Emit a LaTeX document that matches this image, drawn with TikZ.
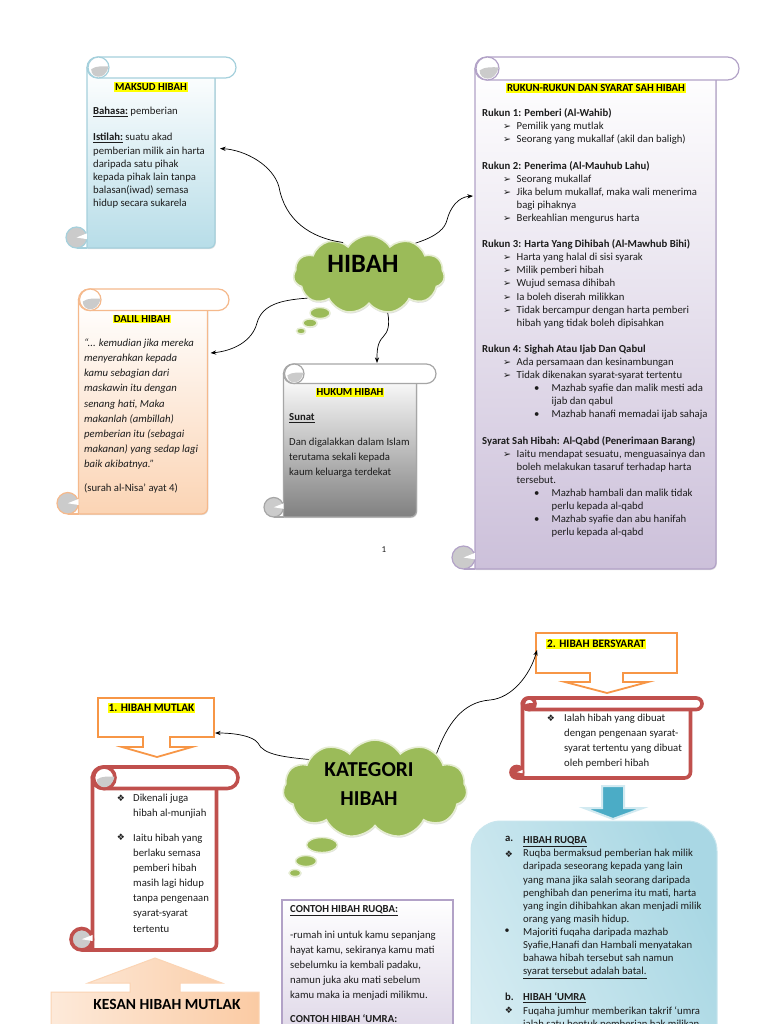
\documentclass[tikz,border=0pt]{standalone}
\usepackage{fontspec}
\setmainfont{Carlito}
\newfontfamily\symfont{DejaVu Sans}
\usetikzlibrary{shapes,arrows}
\usetikzlibrary{arrows.meta,shadows}

\definecolor{inktext}{HTML}{1C1C1C}
\definecolor{hlyellow}{HTML}{FFFF00}
\definecolor{leafgreen}{HTML}{9BBB59}
\definecolor{leafedge}{HTML}{E6EDD3}
\definecolor{orangeline}{HTML}{F79646}
\definecolor{redline}{HTML}{C0504D}
\definecolor{curlgray}{HTML}{CBCBCB}
\definecolor{tealfill}{HTML}{4BACC6}
\definecolor{bluepaper}{HTML}{B7DDE8}
\definecolor{blueedge}{HTML}{A5D0DC}
\definecolor{lilacpaper}{HTML}{CCC0DA}
\definecolor{lilacedge}{HTML}{B2A2C7}
\definecolor{peachpaper}{HTML}{FBD4B4}
\definecolor{peachedge}{HTML}{F5B98C}
\definecolor{graypaper}{HTML}{808080}
\definecolor{grayedge}{HTML}{A6A6A6}

\tikzstyle{line} = [draw, line width=0.7, -{Stealth[length=2mm]}]
\tikzstyle{body} = [inktext, inner sep=0, anchor=north west, align=left, font=\fontsize{10.7}{13.1}\selectfont]
\tikzstyle{wide} = [body, font=\fontsize{10.7}{15.15}\selectfont]
\tikzstyle{judul} = [fill=hlyellow, text=black, inner sep=1, font=\bfseries\fontsize{10.7}{12}\selectfont]
\tikzstyle{tajuk} = [fill=hlyellow, text=black, inner sep=1, anchor=north west, font=\bfseries\fontsize{11.3}{13}\selectfont]
\tikzstyle{awan} = [cloud, cloud puffs=11, cloud puff arc=115, cloud ignores aspect, draw=leafedge, line width=1.6, fill=leafgreen, inner sep=0,
    drop shadow={opacity=0.25, shadow xshift=0.5pt, shadow yshift=-1.5pt}]
\tikzstyle{awantext} = [inner sep=0, text=black, font=\bfseries\fontsize{21.3}{25}\selectfont]
\tikzstyle{bubble} = [ellipse, draw=leafedge, line width=1.4, fill=leafgreen, inner sep=0,
    drop shadow={opacity=0.25, shadow xshift=0.5pt, shadow yshift=-1pt}]
\tikzstyle{callout} = [draw=orangeline, line width=1.8, fill=white]
\tikzstyle{anchorbox} = [inner sep=0, outer sep=0]
\tikzstyle{scred} = [draw=redline, line width=3.6, fill=white]

\newcommand{\mya}{\makebox[34.5pt][l]{\hspace*{21pt}{\symfont\fontsize{9.5}{9}\selectfont ➢}}}
\newcommand{\myb}{\makebox[69.5pt][l]{\hspace*{52pt}•}}
\newcommand{\cta}{\hspace*{34.5pt}}
\newcommand{\ctb}{\hspace*{69.5pt}}
\newcommand{\dia}{{\symfont\fontsize{9}{9}\selectfont ❖}}

% name, x0, y0, x1, y1, roll size, style, curl colour
\newcommand{\scrollpaper}[8]{
    \pgfmathsetmacro\scL{#2+#6}
    \pgfmathsetmacro\scR{#4-#6}
    \pgfmathsetmacro\scT{#3+#6/2}
    \pgfmathsetmacro\scB{#3+#6}
    \pgfmathsetmacro\scC{#2+#6/2}
    \pgfmathsetmacro\scM{#5-#6/2}
    \pgfmathsetmacro\scQ{\scL+#6/2+1}
    \pgfmathsetmacro\scNx{(\scL+\scR)/2}
    \pgfmathsetmacro\scNy{(#3+#5)/2}
    \pgfmathsetmacro\scNw{\scR-\scL}
    \pgfmathsetmacro\scNh{#5-#3}
    \draw[#7, drop shadow={opacity=0.25, shadow xshift=0.8pt, shadow yshift=-1pt}]
        (\scL,\scT) -- (\scL,#5) [rounded corners=6] -- (\scR,#5) -- (\scR,\scT) [sharp corners] -- cycle;
    \draw[#7] (\scC,#5) -- (\scL,#5);
    \draw[#7, fill=#8, top color=#8, bottom color=#8] (\scC,\scM) circle[radius=#6/2];
    \fill[white] (\scC,\scM) -- (\scL,\scM-#6*0.2) -- (\scL,\scM+#6*0.08) -- cycle;
    \draw[#7, top color=white, bottom color=white, fill=white, rounded corners=#6/2-0.01] (\scL,#3) rectangle (#4,\scB);
    \draw[#7, top color=white, bottom color=white, fill=white] (\scQ,\scT) circle[radius=#6/2];
    \fill[#8] (\scL+#6*0.2,\scT+#6*0.08) .. controls (\scL+#6*0.45,\scT-#6*0.1) and (\scL+#6*0.8,\scT-#6*0.05) .. (\scL+#6*1.02,\scT-#6*0.05)
        .. controls (\scL+#6*0.95,\scT+#6*0.3) and (\scL+#6*0.75,\scT+#6*0.44) .. (\scL+#6*0.55,\scT+#6*0.44)
        .. controls (\scL+#6*0.35,\scT+#6*0.44) and (\scL+#6*0.2,\scT+#6*0.3) .. cycle;
    \node[anchorbox, minimum width=\scNw, minimum height=\scNh] (#1) at (\scNx,\scNy) {};
}

\begin{document}
\begin{tikzpicture}[x=1pt, y=-1pt]
    \useasboundingbox (0,0) rectangle (768,1024);
    \clip (0,0) rectangle (768,1024);
    \fill[white] (0,0) rectangle (768,1024);

    % top page
    \scrollpaper{maksud}{66}{57}{236}{248}{21}{draw=blueedge, line width=1.2, top color=white, bottom color=bluepaper}{curlgray}
    \scrollpaper{rukun}{452}{57}{739}{569}{23}{draw=lilacedge, line width=1.2, top color=white, bottom color=lilacpaper}{curlgray}
    \scrollpaper{dalil}{57}{289}{229}{514}{21.5}{draw=peachedge, line width=1.2, top color=white, bottom color=peachpaper}{curlgray}
    \scrollpaper{hukum}{264}{364}{436}{517}{19.5}{draw=grayedge, line width=1.2, top color=white, bottom color=graypaper}{curlgray}

    \node[judul] (maksudt) at (151,87) {MAKSUD HIBAH};
    \node[body] (maksudb) at (93,107) {\textbf{\underline{Bahasa:}} pemberian\\[13.1pt]
        \textbf{\underline{Istilah:}} suatu akad\\
        pemberian milik ain harta\\
        daripada satu pihak\\
        kepada pihak lain tanpa\\
        balasan(iwad) semasa\\
        hidup secara sukarela};

    \node[judul] (rukunt) at (596,88) {RUKUN-RUKUN DAN SYARAT SAH HIBAH};
    \node[body] (rukunb) at (482,108.5) {\textbf{Rukun 1: Pemberi (Al-Wahib)}\\
        \mya Pemilik yang mutlak\\
        \mya Seorang yang mukallaf (akil dan baligh)\\[13.1pt]
        \textbf{Rukun 2: Penerima (Al-Mauhub Lahu)}\\
        \mya Seorang mukallaf\\
        \mya Jika belum mukallaf, maka wali menerima\\
        \cta bagi pihaknya\\
        \mya Berkeahlian mengurus harta\\[13.1pt]
        \textbf{Rukun 3: Harta Yang Dihibah (Al-Mawhub Bihi)}\\
        \mya Harta yang halal di sisi syarak\\
        \mya Milik pemberi hibah\\
        \mya Wujud semasa dihibah\\
        \mya Ia boleh diserah milikkan\\
        \mya Tidak bercampur dengan harta pemberi\\
        \cta hibah yang tidak boleh dipisahkan\\[13.1pt]
        \textbf{Rukun 4: Sighah Atau Ijab Dan Qabul}\\
        \mya Ada persamaan dan kesinambungan\\
        \mya Tidak dikenakan syarat-syarat tertentu\\
        \myb Mazhab syafie dan malik mesti ada\\
        \ctb ijab dan qabul\\
        \myb Mazhab hanafi memadai ijab sahaja\\[13.1pt]
        \textbf{Syarat Sah Hibah: Al-Qabd (Penerimaan Barang)}\\
        \mya Iaitu mendapat sesuatu, menguasainya dan\\
        \cta boleh melakukan tasaruf terhadap harta\\
        \cta tersebut.\\
        \myb Mazhab hambali dan malik tidak\\
        \ctb perlu kepada  al-qabd\\
        \myb Mazhab syafie dan abu hanifah\\
        \ctb perlu kepada al-qabd};

    \node[judul] (dalilt) at (142,319) {DALIL HIBAH};
    \node[wide, font=\itshape\fontsize{10.7}{15.15}\selectfont] (dalilb) at (84,338.5) {“... kemudian jika mereka\\
        menyerahkan kepada\\
        kamu sebagian dari\\
        maskawin itu dengan\\
        senang hati, Maka\\
        makanlah (ambillah)\\
        pemberian itu (sebagai\\
        makanan) yang sedap lagi\\
        baik akibatnya.”};
    \node[body] (dalils) at (84,483.5) {(surah al-Nisa’ ayat 4)};

    \node[judul] (hukumt) at (350,392.5) {HUKUM HIBAH};
    \node[body] (hukums) at (289,413.5) {\textbf{\underline{Sunat}}};
    \node[wide] (hukumb) at (289,437.5) {Dan digalakkan dalam Islam\\
        terutama sekali kepada\\
        kaum keluarga terdekat};

    \node[inktext, inner sep=0, font=\fontsize{9}{10}\selectfont] (halaman) at (384,550) {1};

    \node[awan, minimum width=151, minimum height=78] (hibah) at (369,274.5) {};
    \node[awantext, font=\bfseries\fontsize{26.5}{28}\selectfont] (hibahl) at (363,264) {HIBAH};
    \node[bubble, minimum width=20, minimum height=11] (hibaha) at (320,313) {};
    \node[bubble, minimum width=14, minimum height=8] (hibahb) at (310,323) {};
    \node[bubble, minimum width=9, minimum height=6] (hibahc) at (301,331) {};

    \path [line] (hibah.129) .. controls (310,238) and (285,220) .. (279,187) .. controls (273,165) and (245,150) .. ([shift={(5,-4)}]maksud.east);
    \path [line] (hibah.34) .. controls (438,236) and (445,228) .. (447,220) .. controls (450,208) and (458,197) .. ([shift={(-2,-117)}]rukun.west);
    \path [line] (hibah.201) .. controls (280,300) and (262,305) .. (257,323) .. controls (252,342) and (232,351) .. ([shift={(3,-48.5)}]dalil.east);
    \path [line] (hibah.296) .. controls (390,325) and (388,332) .. (383,337) .. controls (377,343) and (377,352) .. ([shift={(27,-1)}]hukum.north);

    % bottom page
    \draw[callout] (98,698) -- (214,698) -- (214,737) -- (170,737) -- (170,747) -- (192,747) -- (157,757) -- (122,747) -- (143,747) -- (143,737) -- (98,737) -- cycle;
    \node[anchorbox, minimum width=116, minimum height=39] (mutlak) at (156,717.5) {};
    \node[tajuk] (mutlakt) at (107.5,703) {1. HIBAH MUTLAK};

    \draw[callout] (536,633) -- (677,633) -- (677,673) -- (623,673) -- (623,682) -- (648,682) -- (607,693) -- (565,682) -- (590,682) -- (590,673) -- (536,673) -- cycle;
    \node[anchorbox, minimum width=141, minimum height=40] (bersyarat) at (606.5,653) {};
    \node[tajuk] (bersyaratt) at (546,639) {2. HIBAH BERSYARAT};

    \scrollpaper{mutlakp}{71}{767}{238}{950}{21.5}{scred}{curlgray}
    \scrollpaper{bersyaratp}{511}{698}{702}{778}{11.5}{scred}{redline}

    \node[inktext, inner sep=0] (mutlaka) at (121,798) {\dia};
    \node[wide] (mutlakx) at (133,793.5) {Dikenali juga\\hibah al-munjiah};
    \node[inktext, inner sep=0] (mutlakb) at (121,837.5) {\dia};
    \node[wide] (mutlaky) at (133,833.5) {Iaitu hibah yang\\
        berlaku semasa\\
        pemberi hibah\\
        masih lagi hidup\\
        tanpa pengenaan\\
        syarat-syarat\\
        tertentu};

    \node[inktext, inner sep=0] (bersyarata) at (551,718) {\dia};
    \node[wide] (bersyaratx) at (564,713.5) {Ialah hibah yang dibuat\\
        dengan pengenaan syarat-\\
        syarat tertentu yang dibuat\\
        oleh pemberi hibah};

    \draw[draw=white!75!tealfill, line width=2, fill=tealfill] (602,786) -- (624,786) -- (624,808) -- (643,808) -- (613,819) -- (584,808) -- (602,808) -- cycle;

    \draw[draw=white!70!tealfill, line width=1, left color=tealfill!22!white, middle color=tealfill!10!white, right color=tealfill!48!white, shading angle=115, rounded corners=30] (471,821) rectangle (717,1120);
    \node[body, font=\bfseries\fontsize{10.7}{13.1}\selectfont] (ruqbaa) at (505,836.5) {a.};
    \node[body] (ruqbax) at (523,836.5) {\textbf{\underline{HIBAH RUQBA}}\\
        Ruqba bermaksud pemberian hak milik\\
        daripada seseorang kepada yang lain\\
        yang mana jika salah seorang daripada\\
        penghibah dan penerima itu mati, harta\\
        yang ingin dihibahkan akan menjadi milik\\
        orang yang masih hidup.\\
        Majoriti fuqaha daripada mazhab\\
        Syafie,Hanafi dan Hambali menyatakan\\
        bahawa hibah tersebut sah namun\\
        \underline{syarat tersebut adalah batal.}\\[13.1pt]
        \textbf{\underline{HIBAH ‘UMRA}}\\
        Fuqaha jumhur memberikan takrif ‘umra\\
        ialah satu bentuk pemberian hak milikan};
    \node[inktext, inner sep=0] (ruqbab) at (509,854) {\dia};
    \node[inktext, inner sep=0] (ruqbac) at (507,931.5) {•};
    \node[body, font=\bfseries\fontsize{10.7}{13.1}\selectfont] (umraa) at (505,992.5) {b.};
    \node[inktext, inner sep=0] (umrab) at (509,1010) {\dia};

    \draw[draw=lilacedge, line width=1.2, top color=white, bottom color=lilacpaper!70!white,
        drop shadow={opacity=0.3, shadow xshift=1pt, shadow yshift=-1pt}] (282,900) rectangle (453,1050);
    \node[body] (contohr) at (290,905.5) {\textbf{\underline{CONTOH HIBAH RUQBA:}}};
    \node[wide] (contohb) at (290,930.5) {-rumah ini untuk kamu sepanjang\\
        hayat kamu, sekiranya kamu mati\\
        sebelumku ia kembali padaku,\\
        namun juka aku mati sebelum\\
        kamu maka ia menjadi milikmu.};
    \node[body] (contohu) at (290,1014.5) {\textbf{CONTOH HIBAH ‘UMRA:}};

    \draw[draw=peachpaper, line width=1, left color=peachpaper!50!white, right color=peachpaper!85!orangeline] (155,958) -- (222,983) -- (180,983) -- (180,992) -- (259,992) -- (259,1060) -- (51,1060) -- (51,992) -- (130,992) -- (130,983) -- (88,983) -- cycle;
    \node[inner sep=0, text=black, font=\bfseries\fontsize{15.5}{17}\selectfont] (kesan) at (167,1004.5) {KESAN HIBAH MUTLAK};

    \node[awan, minimum width=184, minimum height=98] (kategori) at (375,789) {};
    \node[awantext] (kategoril) at (369,770) {KATEGORI};
    \node[awantext] (kategorim) at (369,799) {HIBAH};
    \node[bubble, minimum width=31, minimum height=15] (kategoria) at (322,845) {};
    \node[bubble, minimum width=21, minimum height=11] (kategorib) at (306,861) {};
    \node[bubble, minimum width=12, minimum height=7] (kategoric) at (295,873) {};

    \path [line] (kategori.156) .. controls (285,757) and (263,755) .. (258,743) .. controls (253,736) and (235,733) .. ([shift={(1,15.5)}]mutlak.east);
    \path [line] (kategori.30) .. controls (447,725) and (462,702) .. (490,700) .. controls (512,698) and (530,675) .. ([shift={(1,-3)}]bersyarat.west);
\end{tikzpicture}
\end{document}
